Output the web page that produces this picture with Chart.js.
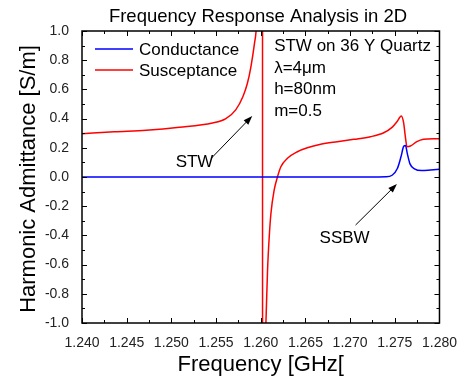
<!DOCTYPE html>
<html>
<head>
<meta charset="utf-8">
<script src="https://cdn.jsdelivr.net/npm/chart.js@4.4.0/dist/chart.umd.min.js"></script>
<style>
  html, body { margin: 0; padding: 0; background: #fff; }
  #wrap { width: 461px; height: 383px; position: relative; }
</style>
</head>
<body>
<div id="wrap"><canvas id="chart"></canvas></div>
<script>
// values
const conductanceFreq = [1.240, 1.250, 1.260, 1.270, 1.2740, 1.2747, 1.2753, 1.2757, 1.2760, 1.2762, 1.2764, 1.2767, 1.2772, 1.2780, 1.2790, 1.2800];
const conductanceVal  = [0.000, 0.000, 0.000, 0.000, 0.002, 0.012, 0.060, 0.140, 0.210, 0.215, 0.160, 0.090, 0.056, 0.044, 0.048, 0.053];

const susceptanceFreq = [1.2400, 1.2436, 1.2472, 1.2509, 1.2546, 1.2561, 1.2572, 1.2580, 1.2585, 1.2589, 1.2593, 1.2595, 1.2598, 1.2600, 1.26019,
  1.26021, 1.2604, 1.26058, 1.26076, 1.26095, 1.26114, 1.26150, 1.26187, 1.26225, 1.26299, 1.26410, 1.26521, 1.26671, 1.26856,
  1.27042, 1.27228, 1.27376, 1.27469, 1.27524, 1.27573, 1.27599, 1.27618, 1.27636, 1.27674, 1.27747, 1.27822, 1.27933, 1.2800];
const susceptanceVal  = [0.297, 0.310, 0.320, 0.340, 0.370, 0.400, 0.460, 0.550, 0.640, 0.755, 0.915, 1.020, 1.500, 2.600, 6.0,
  -6.0, -1.60, -1.00, -0.64, -0.41, -0.25, -0.09, 0.00, 0.07, 0.128, 0.173, 0.200, 0.224, 0.242,
  0.258, 0.276, 0.303, 0.340, 0.379, 0.418, 0.370, 0.276, 0.208, 0.212, 0.242, 0.258, 0.262, 0.262];

const seriesNames = ["Conductance", "Susceptance"];
const seriesColors = ["#0000ff", "#ff0000"];
const infoLines = ["STW on 36 Y Quartz", "\u03bb=4\u03bcm", "h=80nm", "m=0.5"];

const FONT = "'Liberation Sans', Arial, sans-serif";

function toPoints(xs, ys) {
  return xs.map((x, i) => ({ x: x, y: ys[i] }));
}

function arrow(ctx, x1, y1, x2, y2) {
  const ang = Math.atan2(y2 - y1, x2 - x1);
  const len = 9, half = 3.2;
  ctx.beginPath();
  ctx.moveTo(x1, y1);
  ctx.lineTo(x2 - Math.cos(ang) * len * 0.8, y2 - Math.sin(ang) * len * 0.8);
  ctx.stroke();
  ctx.beginPath();
  ctx.moveTo(x2, y2);
  ctx.lineTo(x2 - Math.cos(ang) * len - Math.sin(ang) * half, y2 - Math.sin(ang) * len + Math.cos(ang) * half);
  ctx.lineTo(x2 - Math.cos(ang) * len + Math.sin(ang) * half, y2 - Math.sin(ang) * len - Math.cos(ang) * half);
  ctx.closePath();
  ctx.fill();
}

const decorPlugin = {
  id: "decor",
  afterDraw(chart) {
    const ctx = chart.ctx;
    const a = chart.chartArea;
    const xs = chart.scales.x, ys = chart.scales.y;
    ctx.save();

    // frame
    ctx.strokeStyle = "#000";
    ctx.lineWidth = 1.5;
    ctx.strokeRect(a.left, a.top, a.right - a.left, a.bottom - a.top);

    // inward ticks, major + minor
    ctx.lineWidth = 1;
    const xt = xs.ticks.map(t => t.value);
    xt.forEach((v, i) => {
      const px = Math.round(xs.getPixelForValue(v)) + 0.5;
      ctx.beginPath();
      ctx.moveTo(px, a.bottom); ctx.lineTo(px, a.bottom - 5);
      ctx.moveTo(px, a.top); ctx.lineTo(px, a.top + 5);
      if (i < xt.length - 1) {
        const mx = Math.round(xs.getPixelForValue((v + xt[i + 1]) / 2)) + 0.5;
        ctx.moveTo(mx, a.bottom); ctx.lineTo(mx, a.bottom - 3);
        ctx.moveTo(mx, a.top); ctx.lineTo(mx, a.top + 3);
      }
      ctx.stroke();
    });
    const yt = ys.ticks.map(t => t.value);
    yt.forEach((v, i) => {
      const py = Math.round(ys.getPixelForValue(v)) + 0.5;
      ctx.beginPath();
      ctx.moveTo(a.left, py); ctx.lineTo(a.left + 5, py);
      ctx.moveTo(a.right, py); ctx.lineTo(a.right - 5, py);
      if (i < yt.length - 1) {
        const my = Math.round(ys.getPixelForValue((v + yt[i + 1]) / 2)) + 0.5;
        ctx.moveTo(a.left, my); ctx.lineTo(a.left + 3, my);
        ctx.moveTo(a.right, my); ctx.lineTo(a.right - 3, my);
      }
      ctx.stroke();
    });

    // titles
    ctx.fillStyle = "#000";
    ctx.textAlign = "center";
    ctx.textBaseline = "middle";
    ctx.font = "18.5px " + FONT;
    ctx.fillText("Frequency Response Analysis in 2D", 258, 17);
    ctx.font = "22px " + FONT;
    ctx.fillText("Frequency [GHz[", (a.left + a.right) / 2, 365);
    ctx.save();
    ctx.translate(29, (a.top + a.bottom) / 2 + 2);
    ctx.rotate(-Math.PI / 2);
    ctx.fillText("Harmonic Admittance [S/m]", 0, 0);
    ctx.restore();

    // legend
    ctx.font = "17px " + FONT;
    ctx.textAlign = "left";
    ctx.textBaseline = "alphabetic";
    seriesNames.forEach((name, i) => {
      const y = a.top + 18 + i * 21;
      ctx.strokeStyle = seriesColors[i];
      ctx.lineWidth = 1.5;
      ctx.beginPath();
      ctx.moveTo(a.left + 13, y); ctx.lineTo(a.left + 51, y);
      ctx.stroke();
      ctx.fillStyle = "#000";
      ctx.fillText(name, a.left + 57, y + 6);
    });

    // info box text
    infoLines.forEach((t, i) => {
      ctx.fillText(t, xs.getPixelForValue(1.2615), a.top + 20 + i * 21.5);
    });

    // annotations
    ctx.textAlign = "center";
    ctx.textBaseline = "middle";
    ctx.fillText("STW", xs.getPixelForValue(1.25259), ys.getPixelForValue(0.103));
    ctx.fillText("SSBW", xs.getPixelForValue(1.26938), ys.getPixelForValue(-0.418));
    ctx.strokeStyle = "#000";
    ctx.fillStyle = "#000";
    ctx.lineWidth = 1;
    arrow(ctx, xs.getPixelForValue(1.25449), ys.getPixelForValue(0.13), xs.getPixelForValue(1.25905), ys.getPixelForValue(0.418));
    arrow(ctx, xs.getPixelForValue(1.27061), ys.getPixelForValue(-0.329), xs.getPixelForValue(1.27524), ys.getPixelForValue(-0.048));

    ctx.restore();
  }
};

new Chart(document.getElementById("chart"), {
  type: "line",
  data: {
    datasets: [
      { label: seriesNames[0], data: toPoints(conductanceFreq, conductanceVal), borderColor: seriesColors[0], borderWidth: 1.5, pointRadius: 0, cubicInterpolationMode: "monotone", fill: false },
      { label: seriesNames[1], data: toPoints(susceptanceFreq, susceptanceVal), borderColor: seriesColors[1], borderWidth: 1.5, pointRadius: 0, cubicInterpolationMode: "monotone", fill: false }
    ]
  },
  options: {
    responsive: true,
    maintainAspectRatio: false,
    animation: false,
    layout: { padding: { left: 0, right: 20, top: 31, bottom: 0 } },
    plugins: { legend: { display: false }, title: { display: false }, tooltip: { enabled: false } },
    scales: {
      x: {
        type: "linear",
        min: 1.24, max: 1.28,
        afterFit: s => { s.height = 60; },
        grid: { display: false },
        border: { display: false },
        ticks: {
          stepSize: 0.005, maxRotation: 0, padding: 4, color: "#222",
          font: { family: FONT, size: 14 },
          callback: v => v.toFixed(3)
        }
      },
      y: {
        min: -1, max: 1,
        afterFit: s => { s.width = 82; },
        grid: { display: false },
        border: { display: false },
        ticks: {
          stepSize: 0.2, padding: 5, color: "#222",
          font: { family: FONT, size: 14 },
          callback: v => v.toFixed(1)
        }
      }
    }
  },
  plugins: [decorPlugin]
});
</script>
</body>
</html>
